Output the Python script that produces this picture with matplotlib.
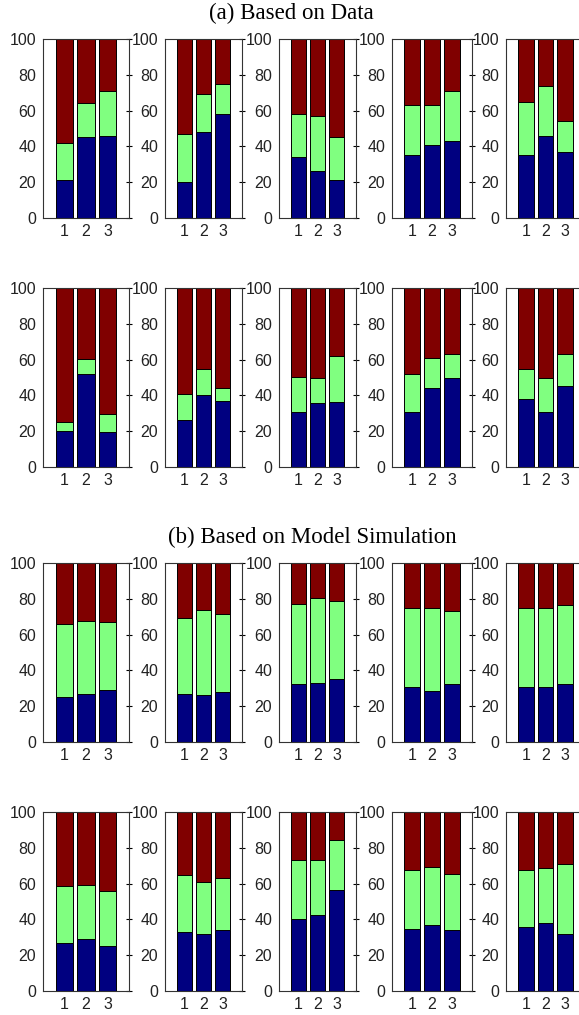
import numpy as np
import matplotlib
matplotlib.use('Agg')
import matplotlib.pyplot as plt

# shares, one list per row, 5 panels x 3 bars
# blue = bottom segment, top = blue + green (upper edge of green segment)
cats = [1, 2, 3]

blue_a1 = [[21, 45, 46], [20, 48, 58], [34, 26, 21], [35, 41, 43], [35, 46, 37]]
top_a1 = [[42, 64, 71], [47, 69, 75], [58, 57, 45], [63, 63, 71], [65, 74, 54]]
blue_a2 = [[20, 52, 19.5], [26, 40, 37], [31, 36, 36.5], [31, 44, 50], [38, 31, 45]]
top_a2 = [[25, 60.5, 29.5], [41, 55, 44], [50.5, 50, 62], [52, 61, 63], [55, 50, 63]]

blue_b1 = [[25, 27, 29], [27, 26.5, 28], [32.5, 33, 35], [30.5, 28.5, 32.5], [30.5, 31, 32.5]]
top_b1 = [[66, 67.5, 67], [69.5, 74, 71.5], [77, 80.5, 78.5], [75, 75, 73], [75, 75, 76.5]]
blue_b2 = [[27, 29, 25], [33, 32, 34], [40.5, 42.5, 56.5], [34.5, 37, 34], [36, 38, 32]]
top_b2 = [[58.5, 59, 56], [65, 61, 63], [73, 73, 84.5], [67.5, 69, 65.5], [67.5, 68.5, 71]]

rows = [(blue_a1, top_a1), (blue_a2, top_a2), (blue_b1, top_b1), (blue_b2, top_b2)]

c_blue = '#000080'
c_green = '#80FF80'
c_red = '#800000'

W, H = 579, 1015
fig = plt.figure(figsize=(W / 100, H / 100), dpi=100)

# layout in pixels
lefts = [43, 165, 279, 392, 506]
widths = [86, 77, 77, 80, 79]
tops = [39, 288, 563, 812]
ph = 179
bw = 0.8

for r, (blue, top) in enumerate(rows):
    for p in range(5):
        ax = fig.add_axes([lefts[p] / W, 1 - (tops[r] + ph) / H, widths[p] / W, ph / H])
        b = np.array(blue[p], dtype=float)
        t = np.array(top[p], dtype=float)
        ax.bar(cats, b, width=bw, color=c_blue, edgecolor='k', linewidth=0.7)
        ax.bar(cats, t - b, bottom=b, width=bw, color=c_green, edgecolor='k', linewidth=0.7)
        ax.bar(cats, 100 - t, bottom=t, width=bw, color=c_red, edgecolor='k', linewidth=0.7)
        ax.set_xlim(0, 4)
        ax.set_ylim(0, 100)
        ax.set_xticks(cats)
        ax.set_yticks(range(0, 101, 20))
        ax.tick_params(axis='x', length=0, pad=4)
        ax.tick_params(axis='y', left=False, right=True, direction='inout', length=4, width=0.8, pad=3)
        for lab in ax.get_xticklabels() + ax.get_yticklabels():
            lab.set_fontfamily('Liberation Sans')
            lab.set_fontsize(11.5)
            lab.set_color('#222222')
        for s in ax.spines.values():
            s.set_linewidth(0.8)
            s.set_color('#333333')

fig.text(291 / W, 1 - 13 / H, '(a) Based on Data', ha='center', va='center',
         family='Liberation Serif', size=16.5)
fig.text(312 / W, 1 - 537 / H, '(b) Based on Model Simulation', ha='center', va='center',
         family='Liberation Serif', size=16.5)

fig.savefig('out.png', dpi=100)
